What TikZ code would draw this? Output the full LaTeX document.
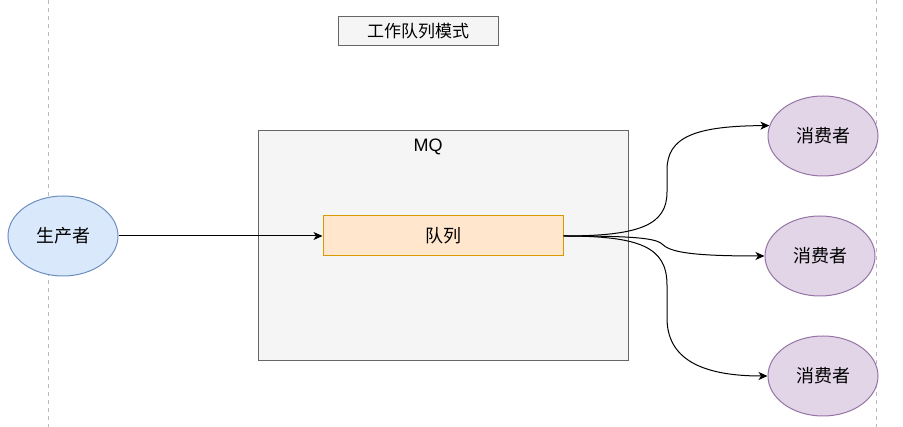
\documentclass[tikz,border=0pt]{standalone}
\usepackage{fontspec}
\setmainfont{Liberation Sans}
\newfontfamily\cjk{Noto Sans CJK SC}
\usetikzlibrary{shapes.geometric,arrows.meta}
\definecolor{boxfill}{HTML}{F5F5F5}
\definecolor{boxline}{HTML}{666666}
\definecolor{qfill}{HTML}{FFE6CC}
\definecolor{qline}{HTML}{D79B00}
\definecolor{pfill}{HTML}{DAE8FC}
\definecolor{pline}{HTML}{6C8EBF}
\definecolor{cfill}{HTML}{E1D5E7}
\definecolor{cline}{HTML}{9673A6}
\definecolor{guide}{HTML}{BBBBBB}
\tikzset{
  greybox/.style={draw=boxline, fill=boxfill, line width=1pt, inner sep=0pt},
  queuebox/.style={draw=qline, fill=qfill, line width=1pt, minimum width=240pt, minimum height=40pt, inner sep=0pt, font=\cjk\fontsize{18}{20}\selectfont},
  prodnode/.style={ellipse, draw=pline, fill=pfill, line width=1pt, minimum width=110pt, minimum height=80pt, inner sep=0pt, font=\cjk\fontsize{18}{20}\selectfont},
  consnode/.style={ellipse, draw=cline, fill=cfill, line width=1pt, minimum width=110pt, minimum height=80pt, inner sep=0pt, font=\cjk\fontsize{18}{20}\selectfont},
  arr/.style={draw=black, line width=1pt, -{Stealth[length=9pt,width=8pt,inset=2.5pt]}},
  guideline/.style={draw=guide, line width=0.8pt, dash pattern=on 4pt off 4pt}
}
\begin{document}
\begin{tikzpicture}[x=1pt,y=-1pt]
\useasboundingbox (0,0) rectangle (903,427);
% guide lines
\coordinate (gl1) at (48,0);
\coordinate (gl2) at (48,427);
\coordinate (gr1) at (876,0);
\coordinate (gr2) at (876,427);
\draw[guideline] (gl1) -- (gl2);
\draw[guideline] (gr1) -- (gr2);
% title
\node[greybox, minimum width=160pt, minimum height=29pt, font=\cjk\fontsize{17}{20}\selectfont] (title) at (418,31.5) {工作队列模式};
% MQ box
\node[greybox, minimum width=370pt, minimum height=230pt] (mq) at (443,246) {};
\node[font=\fontsize{18}{20}\selectfont, anchor=center] (mqlabel) at (428,146.5) {MQ};
% queue
\node[queuebox] (q) at (443,236) {队列};
% producer
\node[prodnode] (p) at (63,236) {生产者};
% consumers
\node[consnode] (c1) at (823,136) {消费者};
\node[consnode] (c2) at (820,256) {消费者};
\node[consnode] (c3) at (823,376) {消费者};
% edges
\draw[arr] (p.east) -- (q.west);
\draw[arr] (q.east) .. controls (640,236) and (667,225) .. (667,192) -- (667,170) .. controls (667,137) and (695,126) .. (c1.169);
\draw[arr] (q.east) .. controls (620,236) and (655,237) .. (662,244) .. controls (670,252) and (690,256) .. (c2.west);
\draw[arr] (q.east) .. controls (640,236) and (667,247) .. (667,285) -- (667,318) .. controls (667,358) and (700,376) .. (c3.west);
\end{tikzpicture}
\end{document}
